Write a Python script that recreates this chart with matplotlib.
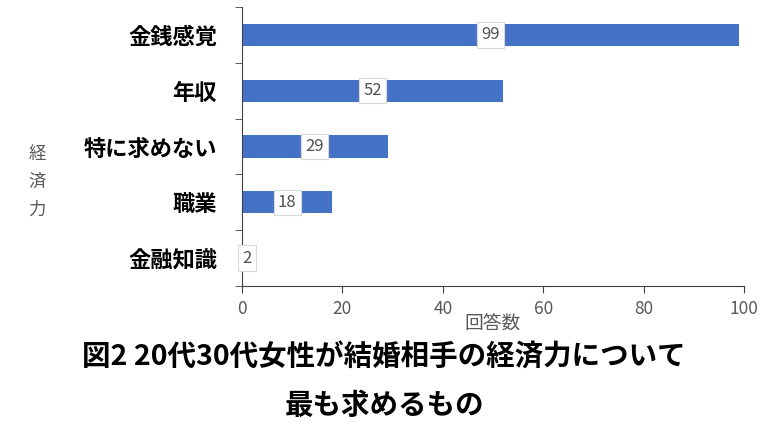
import matplotlib
matplotlib.use("Agg")
import matplotlib.pyplot as plt
import numpy as np

plt.rcParams['font.family'] = ['Noto Sans CJK JP', 'DejaVu Sans']

# data
categories = ['金銭感覚', '年収', '特に求めない', '職業', '金融知識']
counts = [99, 52, 29, 18, 2]
x_ticks = [0, 20, 40, 60, 80, 100]

bar_color = '#4472C4'
gray = '#595959'

fig = plt.figure(figsize=(7.68, 4.32), dpi=100)
ax = fig.add_axes([242 / 768, 1 - 286 / 432, 502 / 768, 279 / 432])

pos = np.arange(len(categories))
ax.barh(pos, counts, height=0.4, color=bar_color, zorder=2)

for p, v in zip(pos, counts):
    ax.text(v / 2, p, str(v), ha='center', va='center', fontsize=12,
            color='#505050', zorder=3,
            bbox=dict(boxstyle='square,pad=0.25', fc='white', ec='#d9d9d9', lw=0.8))

ax.set_xlim(0, 100)
ax.set_ylim(len(categories) - 0.5, -0.5)
ax.set_xticks(x_ticks)
ax.set_xticklabels([str(t) for t in x_ticks], fontsize=12.5, color=gray)
ax.tick_params(axis='x', length=5, color='#404040', pad=5)

ax.set_yticks(pos)
ax.set_yticklabels(categories, fontsize=16, fontweight='bold', color='black')
ax.tick_params(axis='y', which='major', length=0, pad=18)
ax.set_yticks(np.arange(len(categories) + 1) - 0.5, minor=True)
ax.tick_params(axis='y', which='minor', length=5, color='#404040')

for s in ['top', 'right']:
    ax.spines[s].set_visible(False)
for s in ['left', 'bottom']:
    ax.spines[s].set_color('#404040')

ax.set_xlabel('回答数', fontsize=13.5, color=gray, labelpad=-4)

fig.text(37 / 768, 1 - 182 / 432, '経\n済\n力', ha='center', va='center',
         fontsize=12.5, color=gray, linespacing=1.7)

fig.text(0.5, 1 - 358 / 432, '図2 20代30代女性が結婚相手の経済力について',
         ha='center', va='center', fontsize=20.5, fontweight='bold', color='black')
fig.text(0.5, 1 - 406 / 432, '最も求めるもの',
         ha='center', va='center', fontsize=20.5, fontweight='bold', color='black')

fig.savefig('out.png', dpi=100)
